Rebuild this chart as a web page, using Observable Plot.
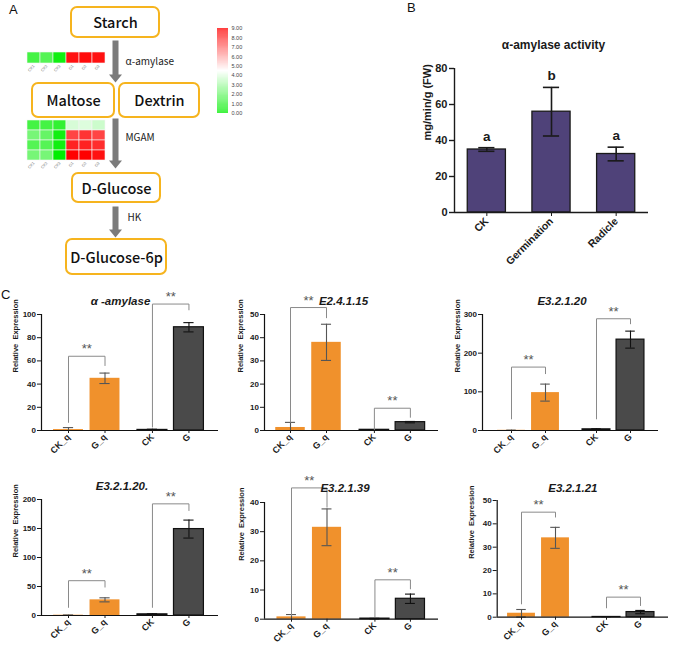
<!DOCTYPE html>
<html><head><meta charset="utf-8">
<script src="https://cdn.jsdelivr.net/npm/d3@7"></script>
<script src="https://cdn.jsdelivr.net/npm/@observablehq/plot@0.6"></script>
<style>
body{margin:0;background:#fff;}
#fig{position:relative;width:676px;height:656px;overflow:hidden;background:#fff;font-family:"Liberation Sans",Arial,sans-serif;}
.plabel{position:absolute;font-size:13px;color:#111;line-height:1;}
</style></head><body><div id="fig"></div>
<script>
// ---------------- DATA ----------------
const pathwayNodes = ["Starch", "Maltose", "Dextrin", "D-Glucose", "D-Glucose-6p"];
const enzymes = ["α-amylase", "MGAM", "HK"];
const samples = ["CK1", "CK2", "CK3", "G1", "G2", "G3"];
const amylaseHeat = [1.2, 1.5, 0.3, 8.7, 8.8, 8.7];
const mgamHeat1 = [1.2, 1.2, 0.9, 3.8, 3.9, 3.6];
const mgamHeat2 = [2.1, 1.8, 0.3, 7.8, 8.1, 7.8];
const mgamHeat3 = [1.5, 1.5, 0.3, 8.4, 8.4, 8.2];
const mgamHeat4 = [2.1, 2.1, 0.0, 9.0, 9.0, 8.7];
const heatLegendTicks = [0, 1, 2, 3, 4, 5, 6, 7, 8, 9];

const activityTitle = "α-amylase activity";
const activityYLabel = "mg/min/g (FW)";
const activityGroups = ["CK", "Germination", "Radicle"];
const activityMean = [35, 56, 32.5];
const activitySD = [1, 13.5, 3.8];
const activityLetters = ["a", "b", "a"];
const activityTicks = [0, 20, 40, 60, 80];

const qCategories = ["CK_q", "G_q", "CK", "G"];
const qYLabel = "Relative \u00a0Expression";

const alphaAmylaseMean = [0.8, 45, 0.5, 89];
const alphaAmylaseSD = [1.7, 4.5, 0.6, 4];
const alphaAmylaseTicks = [0, 20, 40, 60, 80, 100];
const alphaAmylaseSig = [[64, 7, 56], [109, 3, 104]];

const e24115Mean = [1.3, 38, 0.3, 3.6];
const e24115SD = [2.2, 7.8, 0.1, 0.3];
const e24115Ticks = [0, 10, 20, 30, 40, 50];
const e24115Sig = [[53, 3.6, 48.6], [9.6, 0.4, 5.7]];

const e32120Mean = [0.5, 98, 3, 235];
const e32120SD = [0.5, 22, 1.5, 22];
const e32120Ticks = [0, 100, 200, 300];
const e32120Sig = [[164, 30, 147], [289, 30, 276]];

const e32120bMean = [0.5, 27, 2, 149];
const e32120bSD = [0.3, 3.5, 1, 15.5];
const e32120bTicks = [0, 50, 100, 150, 200];
const e32120bSig = [[60, 14, 49], [192.5, 14, 181]];

const e32139Mean = [0.8, 31.5, 0.2, 7];
const e32139SD = [0.8, 6.3, 0.1, 1.6];
const e32139Ticks = [0, 10, 20, 30, 40];
const e32139Sig = [[45, 1.3, 38.4], [13.5, 0.7, 10.4]];

const e32121Mean = [1.7, 34, 0.1, 2.2];
const e32121SD = [1.6, 4.5, 0.1, 0.7];
const e32121Ticks = [0, 10, 20, 30, 40, 50];
const e32121Sig = [[45, 5.7, 42.9], [8.6, 4, 5]];

// ---------------- LAYOUT ----------------
const FONT = "'Liberation Sans', Arial, sans-serif";
const DIAG_FONT = "'Noto Sans CJK SC', 'Noto Sans', sans-serif";
const fig = document.getElementById("fig");
function place(node, left, top) {
  node.style.position = "absolute";
  node.style.left = left + "px";
  node.style.top = top + "px";
  fig.appendChild(node);
}
function panelLabel(t, left, top) {
  const d = document.createElement("div");
  d.className = "plabel"; d.textContent = t;
  d.style.left = left + "px"; d.style.top = top + "px";
  fig.appendChild(d);
}
const baseStyle = {background: "transparent", overflow: "visible"};

// ---------------- PANEL A: pathway ----------------
const nodeBoxes = [
  [71, 159, 7, 37], [32, 114, 83, 117], [119, 199, 83, 117], [72, 160, 173, 202], [66, 166, 239, 274]
].map((b, i) => ({name: pathwayNodes[i], x1: b[0], x2: b[1], y1: b[2], y2: b[3]}));
const arrowLayout = [[115, 40, 82], [115, 118, 168], [115, 206, 237]];
const enzymeLabelPos = [[125, 61], [125, 137], [127, 217]];
const arrowPts = arrowLayout.flatMap(([x, y1, y2], id) => {
  const hl = 8, sw = 3, hw = 6.5;
  return [[x - sw, y1], [x + sw, y1], [x + sw, y2 - hl], [x + hw, y2 - hl], [x, y2], [x - hw, y2 - hl], [x - sw, y2 - hl], [x - sw, y1]]
    .map(([px, py]) => ({id, px, py}));
});
const panelA = Plot.plot({
  width: 340, height: 285, margin: 0,
  x: {domain: [0, 340], range: [0, 340], axis: null, label: null},
  y: {domain: [0, 285], range: [0, 285], axis: null, label: null},
  style: {...baseStyle, fontFamily: DIAG_FONT},
  marks: [
    Plot.line(arrowPts, {x: "px", y: "py", z: "id", fill: "#7b7b7b", stroke: "none"}),
    Plot.rect(nodeBoxes, {x1: "x1", x2: "x2", y1: "y1", y2: "y2", rx: 6, fill: "white", stroke: "#F6B41E", strokeWidth: 2}),
    Plot.text(nodeBoxes, {x: d => (d.x1 + d.x2) / 2, y: d => (d.y1 + d.y2) / 2 + 1, text: "name", fontSize: 14.5, fontWeight: 500, fill: "#111"}),
    Plot.text(enzymes, {x: (d, i) => enzymeLabelPos[i][0], y: (d, i) => enzymeLabelPos[i][1], text: d => d, textAnchor: "start", fontSize: 10, fill: "#222"})
  ]
});
place(panelA, 0, 0);

const heatColor = {type: "linear", domain: [0, 4.5, 9], range: ["#00ee00", "#ffffff", "#ff0000"]};
function heatmap(rows, left, top, h) {
  const data = rows.flatMap((vals, r) => samples.map((s, i) => ({sample: s, row: r, value: vals[i]})));
  return place(Plot.plot({
    width: 90, height: h, marginLeft: 6, marginRight: 5, marginTop: 4, marginBottom: 15,
    x: {domain: samples, padding: 0, axis: null, label: null},
    y: {domain: rows.map((_, r) => r), padding: 0, axis: null, label: null},
    color: heatColor,
    style: {...baseStyle, fontFamily: FONT},
    marks: [
      Plot.cell(data, {x: "sample", y: "row", fill: "value", stroke: "#f4f4f4", strokeWidth: 0.6, inset: 0}),
      Plot.axisX({tickRotate: -45, tickSize: 0, tickPadding: 2, fontSize: 4, fill: "#777", label: null})
    ]
  }), left, top);
}
heatmap([amylaseHeat], 20, 48, 30);
heatmap([mgamHeat1, mgamHeat2, mgamHeat3, mgamHeat4], 20, 115, 60);

const ramp = d3.range(0, 9, 0.05);
place(Plot.plot({
  width: 60, height: 100, marginLeft: 7, marginRight: 42, marginTop: 6, marginBottom: 9,
  x: {domain: [0, 1], axis: null, label: null},
  y: {domain: [0, 9], axis: null, label: null},
  color: heatColor,
  style: {...baseStyle, fontFamily: FONT},
  marks: [
    Plot.rect(ramp, {x1: 0, x2: 1, y1: d => d, y2: d => d + 0.051, fill: d => d + 0.025}),
    Plot.axisY({anchor: "right", ticks: heatLegendTicks, tickFormat: d3.format(".2f"), tickSize: 0, tickPadding: 3, fontSize: 5.5, fill: "#444", label: null})
  ]
}), 210, 22);

// ---------------- PANEL B ----------------
const groupB = activityGroups.map((g, i) => ({g, x: i, m: activityMean[i], s: activitySD[i], l: activityLetters[i]}));
const capsB = groupB.flatMap(d => [{x: d.x, y: d.m + d.s}, {x: d.x, y: d.m - d.s}]);
place(Plot.plot({
  width: 336, height: 290, marginLeft: 114, marginRight: 28, marginTop: 68, marginBottom: 78,
  x: {domain: [-0.5, 2.5], axis: null, label: null},
  y: {domain: [0, 80], axis: null, label: null},
  style: {...baseStyle, fontFamily: FONT, fontWeight: "bold", color: "#1a1a1a"},
  marks: [
    Plot.rectY(groupB, {x1: d => d.x - 0.295, x2: d => d.x + 0.295, y1: 0, y2: "m", fill: "#4F4279", stroke: "#1a1a1a", strokeWidth: 1.3}),
    Plot.ruleX(groupB, {x: "x", y1: d => d.m - d.s, y2: d => d.m + d.s, stroke: "#1a1a1a", strokeWidth: 1.6}),
    Plot.ruleY(capsB, {x1: d => d.x - 0.125, x2: d => d.x + 0.125, y: "y", stroke: "#1a1a1a", strokeWidth: 1.6}),
    Plot.ruleX([-0.5], {y1: 0, y2: 80, stroke: "#1a1a1a", strokeWidth: 1.4}),
    Plot.ruleY([0], {x1: -0.5, x2: 2.5, stroke: "#1a1a1a", strokeWidth: 1.4}),
    Plot.axisY({ticks: activityTicks, tickSize: 5, tickPadding: 2, fontSize: 11, strokeWidth: 1.4, label: null}),
    Plot.axisX({ticks: [0, 1, 2], tickFormat: i => activityGroups[i], tickRotate: -45, tickSize: 4, tickPadding: 3, fontSize: 10.5, label: null}),
    Plot.text(groupB, {x: "x", y: d => d.m + d.s, text: "l", lineAnchor: "bottom", dy: -7, fontSize: 13.5}),
    Plot.text([activityTitle], {frameAnchor: "top", dy: -28, dx: 2, fontSize: 12}),
    Plot.text([activityYLabel], {frameAnchor: "left", rotate: -90, dx: -27, fontSize: 11})
  ]
}), 340, 0);

// ---------------- PANEL C ----------------
const cSpecs = [
  {title: "α -amylase", mean: alphaAmylaseMean, sd: alphaAmylaseSD, ticks: alphaAmylaseTicks, sig: alphaAmylaseSig},
  {title: "E2.4.1.15", mean: e24115Mean, sd: e24115SD, ticks: e24115Ticks, sig: e24115Sig},
  {title: "E3.2.1.20", mean: e32120Mean, sd: e32120SD, ticks: e32120Ticks, sig: e32120Sig},
  {title: "E3.2.1.20.", mean: e32120bMean, sd: e32120bSD, ticks: e32120bTicks, sig: e32120bSig},
  {title: "E3.2.1.39", mean: e32139Mean, sd: e32139SD, ticks: e32139Ticks, sig: e32139Sig},
  {title: "E3.2.1.21", mean: e32121Mean, sd: e32121SD, ticks: e32121Ticks, sig: e32121Sig}
];
const cLayouts = [
  {left: 0, top: 285, w: 225, h: 185, ml: 41, mr: 7, mt: 29, mb: 40, c0: 68, u: 36.5, gap: 0.3, tdx: -9.5, tdy: -18, ldx: -26},
  {left: 225, top: 285, w: 225, h: 185, ml: 39, mr: 12, mt: 29, mb: 40, c0: 290, u: 36, gap: 0.33, tdx: -8, tdy: -18, ldx: -24},
  {left: 450, top: 285, w: 226, h: 185, ml: 32, mr: 18, mt: 29, mb: 40, c0: 511, u: 34, gap: 0.5, tdx: -8.5, tdy: -18, ldx: -25},
  {left: 0, top: 470, w: 225, h: 186, ml: 41, mr: 7, mt: 29, mb: 41, c0: 68, u: 36.5, gap: 0.3, tdx: -8, tdy: -18, ldx: -26},
  {left: 225, top: 470, w: 225, h: 186, ml: 39, mr: 12, mt: 32, mb: 37.3, c0: 291, u: 35.5, gap: 0.35, tdx: -6.5, tdy: -19, ldx: -23},
  {left: 450, top: 470, w: 226, h: 186, ml: 46.7, mr: 8, mt: 30, mb: 39.3, c0: 521, u: 34, gap: 0.5, tdx: -10, tdy: -17, ldx: -26}
];
function exprPlot(spec, lay) {
  const pos = qCategories.map((c, i) => i + (i >= 2 ? lay.gap : 0));
  const L = lay.left + lay.ml, R = lay.left + lay.w - lay.mr;
  const xd = [(L - lay.c0) / lay.u, (R - lay.c0) / lay.u];
  const ymax = spec.ticks[spec.ticks.length - 1];
  const rows = qCategories.map((c, i) => ({cat: c, x: pos[i], m: spec.mean[i], s: spec.sd[i], q: c.endsWith("_q")}));
  const orange = rows.filter(d => d.q), dark = rows.filter(d => !d.q);
  const caps = rows.flatMap(d => {
    const out = [{x: d.x, y: d.m + d.s, q: d.q}];
    if (d.m - d.s > 0) out.push({x: d.x, y: d.m - d.s, q: d.q});
    return out;
  });
  const br = spec.sig.map((s, k) => ({xa: pos[2 * k], xb: pos[2 * k + 1], top: s[0], le: s[1], re: s[2]}));
  const brPts = br.flatMap((b, k) => [{k, x: b.xa, y: b.le}, {k, x: b.xa, y: b.top}, {k, x: b.xb, y: b.top}, {k, x: b.xb, y: b.re}]);
  const bw = 0.41, cw = 0.14;
  return Plot.plot({
    width: lay.w, height: lay.h, marginLeft: lay.ml, marginRight: lay.mr, marginTop: lay.mt, marginBottom: lay.mb,
    x: {domain: xd, axis: null, label: null},
    y: {domain: [0, ymax], axis: null, label: null},
    style: {...baseStyle, fontFamily: FONT, fontWeight: "bold", color: "#1a1a1a"},
    marks: [
      Plot.rectY(orange, {x1: d => d.x - bw, x2: d => d.x + bw, y1: 0, y2: "m", fill: "#F0912C"}),
      Plot.rectY(dark, {x1: d => d.x - bw, x2: d => d.x + bw, y1: 0, y2: "m", fill: "#4A4A4A", stroke: "#111", strokeWidth: 1.2}),
      Plot.ruleX(rows, {x: "x", y1: d => Math.max(0, d.m - d.s), y2: d => d.m + d.s, stroke: d => d.q ? "#555" : "#111", strokeWidth: 1.1}),
      Plot.ruleY(caps, {x1: d => d.x - cw, x2: d => d.x + cw, y: "y", stroke: d => d.q ? "#555" : "#111", strokeWidth: 1.1}),
      Plot.line(brPts, {x: "x", y: "y", z: "k", stroke: "#8a8a8a", strokeWidth: 1}),
      Plot.text(br, {x: d => (d.xa + d.xb) / 2, y: "top", text: () => "**", dy: -7, fontSize: 13, fontWeight: "normal", fill: "#555"}),
      Plot.ruleX([xd[0]], {y1: 0, y2: ymax, stroke: "#111", strokeWidth: 1.2}),
      Plot.ruleY([0], {x1: xd[0], x2: xd[1], stroke: "#111", strokeWidth: 1.2}),
      Plot.axisY({ticks: spec.ticks, tickSize: 4, tickPadding: 1.5, fontSize: 8, label: null}),
      Plot.axisX({ticks: pos, tickFormat: d => qCategories[pos.indexOf(d)], tickRotate: -45, tickSize: 3, tickPadding: 2, fontSize: 9, label: null}),
      Plot.text([spec.title], {frameAnchor: "top", dx: lay.tdx, dy: lay.tdy, fontSize: 11.5, fontStyle: "italic"}),
      Plot.text([qYLabel], {frameAnchor: "left", rotate: -90, dx: lay.ldx, fontSize: 7.5})
    ]
  });
}
cSpecs.forEach((s, i) => place(exprPlot(s, cLayouts[i]), cLayouts[i].left, cLayouts[i].top));

panelLabel("A", 9, 3);
panelLabel("B", 407, 1);
panelLabel("C", 1, 288);
</script></body></html>
